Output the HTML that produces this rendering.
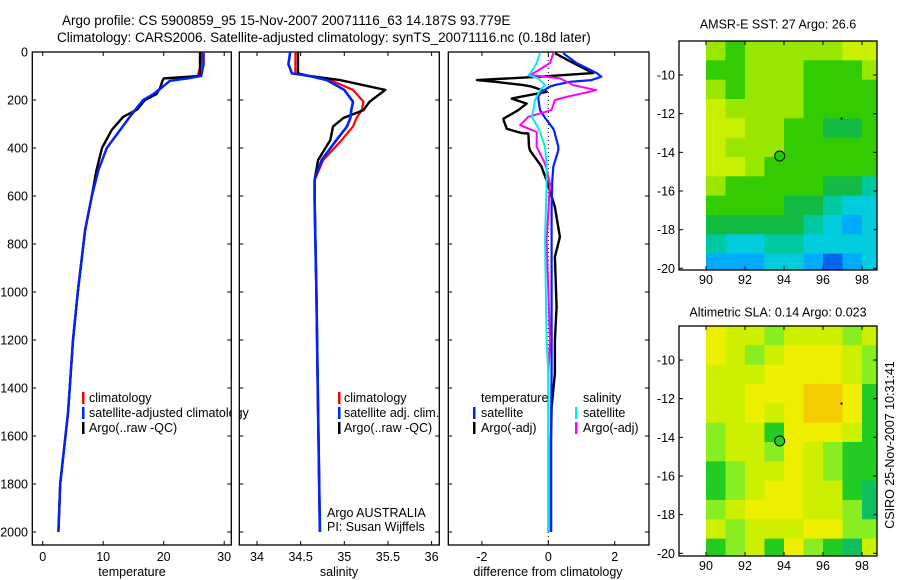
<!DOCTYPE html>
<html><head><meta charset="utf-8"><style>
body{margin:0;background:#fff;}
svg{display:block;font-family:"Liberation Sans",sans-serif;}
</style></head><body>
<svg id="fig" width="900" height="580" viewBox="0 0 900 580" xmlns="http://www.w3.org/2000/svg">
<rect width="900" height="580" fill="#fff"/>
<text x="62" y="25" font-size="13.5">Argo profile: CS 5900859_95 15-Nov-2007 20071116_63 14.187S 93.779E</text>
<text x="57" y="42" font-size="13.5">Climatology: CARS2006. Satellite-adjusted climatology: synTS_20071116.nc (0.18d later)</text>
<g id="g"></g>
</svg>
<script>
// ---- data ----
const tDepth=[0,50,100,110,120,150,175,200,240,270,325,400,492,603,742,1000,1200,1500,1800,2000];
const tClim=[26.3,26.2,25.6,23.5,21.0,19.6,18.3,16.8,15.4,14.4,12.8,10.6,9.2,8.1,7.0,5.8,5.0,4.2,2.9,2.6];
const tSat=[26.6,26.6,26.2,24,21.0,19.6,18.3,16.6,15.3,14.4,12.8,10.6,9.2,8.1,7.0,5.8,5.0,4.2,2.9,2.6];
const tArgo=[26.0,26.0,26.0,20.0,19.8,19.4,18.8,16.9,15.6,13.3,11.4,9.8,8.9,8.1,7.0,5.8,5.0,4.2,2.9,2.6];
const sDepth=[0,50,89,100,117,158,207,242,275,311,367,450,533,617,1000,1500,2000];
const sClim=[34.44,34.44,34.44,34.6,34.84,35.10,35.22,35.20,35.14,35.10,34.97,34.76,34.66,34.66,34.68,34.70,34.72];
const sSat=[34.38,34.36,34.40,34.6,34.80,35.00,35.10,35.08,35.07,35.03,34.91,34.74,34.66,34.66,34.68,34.70,34.72];
const sArgo=[34.47,34.47,34.47,34.6,34.95,35.47,35.29,35.22,34.99,34.87,34.84,34.70,34.66,34.66,34.68,34.70,34.72];
const dTDepth=[5,46,88,103,117,124,138,144,166,186,194,215,242,278,283,320,338,340,394,410,478,480,535,646,771,854,1063,1200,1340,1479,1617,1936,2000];
const dTSat=[0.45,0.85,1.46,1.6,1.3,0.65,0.2,0.05,-0.2,-0.3,-0.3,-0.28,-0.25,-0.08,-0.05,0.15,0.2,0.2,0.3,0.3,0.15,0.15,0.12,0.1,0.1,0.1,0.1,0.1,0.1,0.09,0.08,0.08,0.08];
const dTArgo=[0.2,0.75,1.35,-0.25,-2.15,-1.6,-0.75,-0.5,-0.05,-0.8,-1.1,-0.65,-0.9,-1.35,-1.35,-1.25,-0.8,-0.6,-0.58,-0.55,-0.2,-0.2,-0.05,0.2,0.35,0.2,0.25,0.2,0.2,0.1,0.08,0.08,0.08];
const dSDepth=[5,46,81,96,110,138,159,187,200,242,270,305,333,395,465,549,785,1200,1340,1936,2000];
const dSSat=[-0.25,-0.35,-0.5,-0.6,-0.3,-0.1,-0.25,-0.35,-0.4,-0.45,-0.5,-0.35,-0.25,-0.1,-0.05,-0.05,-0.1,-0.05,0,0,0];
const dSArgo=[0.15,0.05,-0.35,-0.55,0.35,0.75,1.45,0.55,0.2,0.1,-0.6,-0.85,-0.35,-0.35,-0.1,0.05,-0.05,0.05,0,0,0];
const depthTicks=[0,200,400,600,800,1000,1200,1400,1600,1800,2000];
const tTicks=[0,10,20,30];
const sTicks=[34,34.5,35,35.5,36];
const dTicks=[-2,0,2];
const mapLonTicks=[90,92,94,96,98];
const mapLatTicks=[-10,-12,-14,-16,-18,-20];
const mapLons=[90,91,92,93,94,95,96,97,98];
const mapLats=[-8.24,-9.24,-10.24,-11.24,-12.24,-13.24,-14.24,-15.24,-16.24,-17.24,-18.24,-19.24];
const sstGrid=[
[7,6,7,7,7,7,7,8,8],[6,6,7,7,7,6,6,6,7],[7,6,7,7,7,6,6,6,6],[8,7,7,7,7,6,6,6,6],
[8,8,7,7,6,6,5,5,6],[8,7,7,7,6,6,6,6,6],[8,8,7,6,6,6,6,6,6],[7,6,6,6,6,6,5,5,4],
[6,6,6,6,5,5,4,3,3],[5,5,5,5,5,4,3,2,3],[4,3,3,4,4,3,3,3,3],[2,2,2,3,3,2,1,2,3]];
const slaGrid=[
[8,7,7,6,7,7,7,6,7],[8,7,6,7,8,8,8,7,6],[7,7,7,8,8,8,8,7,6],[7,7,8,8,8,9,9,8,5],
[7,7,8,7,8,9,9,8,5],[6,7,7,5,8,8,8,7,5],[6,7,7,6,8,7,6,5,5],[5,6,7,7,8,7,6,5,5],
[5,6,7,8,8,7,7,5,4],[6,7,8,8,8,7,7,6,4],[7,6,7,7,7,8,8,6,6],[5,6,7,5,8,6,5,4,7]];
const argoLon=93.779, argoLat=-14.187;

// ---- helpers ----
const NS="http://www.w3.org/2000/svg";
const G=document.getElementById('g');
function mk(tag,at,parent){const e=document.createElementNS(NS,tag);for(const k in at)e.setAttribute(k,at[k]);(parent||G).appendChild(e);return e;}
const yD=d=>52+d*0.24;
const panels={
 t:{x0:32.3,x1:231.3,sx:v=>42.7+v*6.05},
 s:{x0:239.3,x1:439.3,sx:v=>257+(v-34)*87.3},
 d:{x0:448.3,x1:649,sx:v=>548.3+v*33.2}
};
const TOP=52,BOT=545;
function frame(p,name){
 const r=mk('rect',{x:p.x0,y:TOP,width:p.x1-p.x0,height:BOT-TOP,fill:'none',stroke:'#000','stroke-width':1.3});
 
 
 depthTicks.forEach(d=>{const y=yD(d);mk('line',{x1:p.x0,x2:p.x0+4,y1:y,y2:y,stroke:'#000'});mk('line',{x1:p.x1-4,x2:p.x1,y1:y,y2:y,stroke:'#000'});});
}
function xticks(p,ticks,name){
 ticks.forEach(v=>{const x=p.sx(v);mk('line',{x1:x,x2:x,y1:TOP,y2:TOP+4,stroke:'#000'});mk('line',{x1:x,x2:x,y1:BOT-4,y2:BOT,stroke:'#000'});
 const t=mk('text',{x:x,y:561,'font-size':12.5,'text-anchor':'middle'});t.textContent=v;
 
 });
}
function line(p,xs,ds,color,w,name){
 const pts=xs.map((v,i)=>p.sx(v).toFixed(1)+','+yD(ds[i]).toFixed(1)).join(' ');
 const e=mk('polyline',{points:pts,fill:'none',stroke:color,'stroke-width':w,'stroke-linejoin':'round'});
 
 
}
function txt(x,y,s,name,extra){const t=mk('text',Object.assign({x:x,y:y,'font-size':12.5},extra||{}));t.textContent=s;
 
 return t;}
function marker(x,y,color){const e=mk('rect',{x:x,y:y-10,width:2.5,height:12,fill:color});
 
 }

// panel 1
frame(panels.t,'temperature-panel');
depthTicks.forEach(d=>{const t=txt(28,yD(d)+4.5,d,'depth-tick-label',{'text-anchor':'end'});});
xticks(panels.t,tTicks,'temperature-tick-label');
line(panels.t,tClim,tDepth,'#ff0000',2.2,'temperature-climatology-line');
line(panels.t,tArgo,tDepth,'#000',2.4,'temperature-argo-line');
line(panels.t,tSat,tDepth,'#0022ff',2.4,'temperature-satellite-line');
txt(132,576,'temperature','x-axis-title-temperature',{'text-anchor':'middle'});
marker(82,402,'#ff0000');txt(89,402,'climatology','legend-entry-climatology');
marker(82,417,'#0022ff');txt(89,417,'satellite-adjusted climatology','legend-entry-satellite-adjusted');
marker(82,432,'#000');txt(89,432,'Argo(..raw -QC)','legend-entry-argo');
mk('rect',{x:231.9,y:380,width:6.8,height:60,fill:'#fff'});

// panel 2
frame(panels.s,'salinity-panel');
xticks(panels.s,sTicks,'salinity-tick-label');
line(panels.s,sClim,sDepth,'#ff0000',2.2,'salinity-climatology-line');
line(panels.s,sArgo,sDepth,'#000',2.4,'salinity-argo-line');
line(panels.s,sSat,sDepth,'#0022ff',2.6,'salinity-satellite-line');
txt(339,576,'salinity','x-axis-title-salinity',{'text-anchor':'middle'});
marker(338,402,'#ff0000');txt(344,402,'climatology','legend-entry-climatology');
marker(338,417,'#0022ff');txt(344,417,'satellite adj. clim.','legend-entry-satellite');
marker(338,432,'#000');txt(344,432,'Argo(..raw -QC)','legend-entry-argo');
txt(327,517,'Argo AUSTRALIA','argo-agency-label');
txt(327,531,'PI: Susan Wijffels','pi-label');

// panel 3
frame(panels.d,'difference-panel');
xticks(panels.d,dTicks,'difference-tick-label');
const zl=mk('line',{x1:548.3,x2:548.3,y1:TOP,y2:BOT,stroke:'#000','stroke-dasharray':'1,3'});


line(panels.d,dTArgo,dTDepth,'#000',2.4,'temperature-argo-diff-line');
line(panels.d,dTSat,dTDepth,'#0022ff',2.2,'temperature-satellite-diff-line');
line(panels.d,dSArgo,dSDepth,'#ff00ff',2,'salinity-argo-diff-line');
line(panels.d,dSSat,dSDepth,'#00eeee',2,'salinity-satellite-diff-line');
txt(548,576,'difference from climatology','x-axis-title-difference',{'text-anchor':'middle'});
txt(481,402,'temperature','legend-temperature-heading');
marker(473,417,'#0022ff');txt(481,417,'satellite','legend-temp-satellite');
marker(473,432,'#000');txt(481,432,'Argo(-adj)','legend-temp-argo');
txt(583,402,'salinity','legend-salinity-heading');
marker(575,417,'#00eeee');txt(583,417,'satellite','legend-sal-satellite');
marker(575,432,'#ff00ff');txt(583,432,'Argo(-adj)','legend-sal-argo');

// maps
const sstCol=['#0022aa','#0066ee','#00aaff','#00ccdd','#00c8a0','#11bb44','#33cc00','#99e600','#c8f000'];
const slaCol=['#00aa66','#00aa66','#00aa66','#00bb55','#10c060','#22cc22','#88ee22','#ccf000','#eeee00','#f5cc00'];
function map(m,grid,cols,name,title,circFill){
 const sx=lon=>706+(lon-90)*19.5, sy=lat=>m.top+(-8.24-lat)*19.33;
 const g=mk('g',{});
 
 
 grid.forEach((row,i)=>row.forEach((v,j)=>{
  const x=sx(mapLons[j]),y=sy(mapLats[i]);const w=Math.min(sx(mapLons[j]+1),877)-x;
  const c=mk('rect',{x:x,y:y,width:w+0.5,height:Math.min(sy(mapLats[i]-1),m.bot)-y+0.5,fill:cols[v]},g);
  
  
 }));
 mk('rect',{x:679,y:m.top,width:198,height:m.bot-m.top,fill:'none',stroke:'#000','stroke-width':1.3});
 mapLonTicks.forEach(v=>{const x=sx(v);mk('line',{x1:x,x2:x,y1:m.top,y2:m.top+4,stroke:'#000'});mk('line',{x1:x,x2:x,y1:m.bot-4,y2:m.bot,stroke:'#000'});
  txt(x,m.bot+14,v,'map-lon-tick-label',{'text-anchor':'middle'});});
 mapLatTicks.forEach(v=>{const y=sy(v);mk('line',{x1:679,x2:683,y1:y,y2:y,stroke:'#000'});mk('line',{x1:873,x2:877,y1:y,y2:y,stroke:'#000'});
  txt(675,y+4.5,v,'map-lat-tick-label',{'text-anchor':'end'});});
 const c=mk('circle',{cx:sx(argoLon),cy:sy(argoLat),r:5,fill:circFill,stroke:'#000','stroke-width':1});
 
 
 mk('rect',{x:sx(96.9),y:sy(-12.2),width:2,height:2,fill:'#000'});
 txt(778,m.top-m.tOff,title,name+'-title',{'text-anchor':'middle'});
}
map({top:41,bot:270,tOff:12.5},sstGrid,sstCol,'sst-map','AMSR-E SST: 27 Argo: 26.6','#22cc00');
map({top:326,bot:556,tOff:9.5},slaGrid,slaCol,'sla-map','Altimetric SLA: 0.14 Argo: 0.023','#22cc22');
txt(0,0,'CSIRO 25-Nov-2007 10:31:41','timestamp-label',{transform:'translate(894,445) rotate(-90)','text-anchor':'middle'});
</script>
</body></html>
